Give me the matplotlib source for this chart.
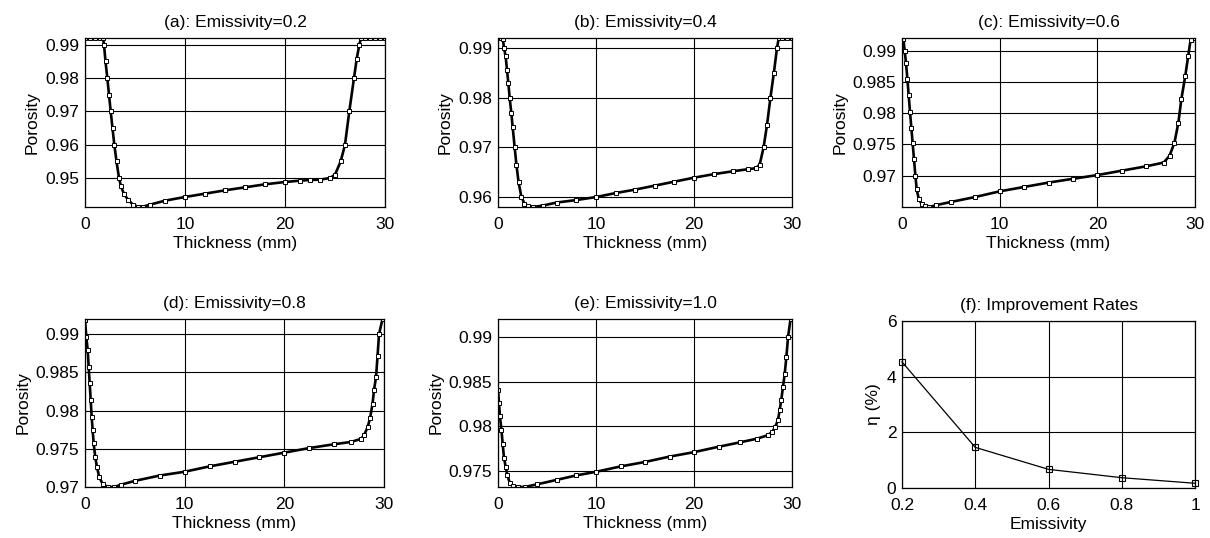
import matplotlib
matplotlib.use("Agg")
import matplotlib.pyplot as plt

plt.rcParams["font.family"] = ["Liberation Sans", "DejaVu Sans"]
plt.rcParams["font.size"] = 12.5

# (a) emissivity 0.2
x_a = [0, 0.5, 1.0, 1.5, 1.8, 1.9, 2.05, 2.23, 2.4, 2.57, 2.75, 2.93, 3.15, 3.4,
       3.6, 3.9, 4.3, 4.8, 5.3, 5.8, 6.5, 8, 10, 12, 14, 16, 18, 20, 21.5, 22.5,
       23.5, 24.5, 25.0, 25.57, 26.0, 26.43, 26.9, 27.17, 27.43, 27.6, 28, 28.5,
       29, 29.5, 30]
por_a = [0.992, 0.992, 0.992, 0.992, 0.992, 0.990, 0.985, 0.980, 0.975, 0.970,
         0.965, 0.960, 0.955, 0.950, 0.9475, 0.9452, 0.9435, 0.9420, 0.9414,
         0.9414, 0.9420, 0.9432, 0.9443, 0.9453, 0.9463, 0.9472, 0.9481, 0.9488,
         0.9492, 0.9494, 0.9495, 0.9500, 0.9510, 0.9550, 0.9600, 0.9700, 0.9800,
         0.9857, 0.9900, 0.992, 0.992, 0.992, 0.992, 0.992, 0.992]

# (b) emissivity 0.4
x_b = [0, 0.3, 0.5, 0.61, 0.78, 0.92, 1.05, 1.19, 1.36, 1.5, 1.7, 1.88, 2.1, 2.39,
       2.7, 3.1, 3.6, 4.6, 6, 8, 10, 12, 14, 16, 18, 20, 22, 24, 25.5, 26.3, 26.7,
       27.1, 27.45, 27.8, 28.15, 28.47, 28.65, 29, 29.5, 30]
por_b = [0.992, 0.992, 0.9918, 0.990, 0.9883, 0.9856, 0.983, 0.980, 0.9769, 0.974,
         0.970, 0.9665, 0.963, 0.960, 0.9587, 0.9582, 0.958, 0.9583, 0.9589,
         0.9594, 0.9600, 0.9608, 0.9615, 0.9623, 0.9631, 0.9639, 0.9646, 0.9652,
         0.9656, 0.9658, 0.9665, 0.970, 0.9745, 0.980, 0.985, 0.990, 0.992,
         0.992, 0.992, 0.992]

# (c) emissivity 0.6
x_c = [0, 0.14, 0.27, 0.41, 0.55, 0.68, 0.82, 0.96, 1.09, 1.23, 1.37, 1.5, 1.71,
       2.0, 2.4, 2.8, 3.5, 5, 7.5, 10, 12.5, 15, 17.5, 20, 22.5, 25, 26.8, 27.4,
       27.9, 28.3, 28.6, 29.0, 29.3, 29.55, 30]
por_c = [0.992, 0.9919, 0.990, 0.988, 0.9855, 0.9829, 0.9802, 0.9776, 0.9752,
         0.9726, 0.970, 0.9679, 0.9663, 0.9655, 0.9652, 0.9650, 0.9653, 0.9658,
         0.9666, 0.9675, 0.9682, 0.9689, 0.9695, 0.9701, 0.9708, 0.9715, 0.9721,
         0.9732, 0.9753, 0.9785, 0.9822, 0.9859, 0.9891, 0.9917, 0.992]

# (d) emissivity 0.8
x_d = [0, 0.13, 0.27, 0.37, 0.47, 0.57, 0.67, 0.77, 0.87, 1.03, 1.2, 1.43, 1.77,
       2.27, 2.93, 3.6, 5, 7.5, 10, 12.5, 15, 17.5, 20, 22.5, 25, 26.7, 27.7, 28.0,
       28.35, 28.6, 28.85, 29.0, 29.2, 29.35, 29.5, 29.85]
por_d = [0.9919, 0.9897, 0.9879, 0.9857, 0.9836, 0.9814, 0.9792, 0.9774, 0.9757,
         0.9739, 0.9726, 0.9713, 0.9704, 0.9700, 0.9700, 0.9703, 0.9708, 0.9715,
         0.9720, 0.9727, 0.9733, 0.9739, 0.9745, 0.9751, 0.9756, 0.9759, 0.9763,
         0.9768, 0.9778, 0.9790, 0.9809, 0.9827, 0.9844, 0.9871, 0.9900, 0.9920]

# (e) emissivity 1.0
x_e = [0, 0.1, 0.2, 0.35, 0.48, 0.61, 0.79, 0.96, 1.19, 1.53, 2.04, 2.72, 4, 6, 8,
       10, 12.5, 15, 17.5, 20, 22.5, 24.7, 26.4, 27.55, 28.0, 28.3, 28.57, 28.74,
       28.9, 29.08, 29.26, 29.43, 29.6, 29.85]
por_e = [0.9841, 0.9826, 0.9811, 0.9796, 0.9780, 0.9765, 0.9754, 0.9745, 0.9737,
         0.9733, 0.9732, 0.9732, 0.9735, 0.9740, 0.9745, 0.9749, 0.9755, 0.9760,
         0.9766, 0.9771, 0.9777, 0.9782, 0.9786, 0.9790, 0.9794, 0.97995, 0.9807,
         0.9818, 0.9829, 0.9844, 0.9859, 0.9878, 0.9900, 0.9920]

# (f) improvement rates
emissivity = [0.2, 0.4, 0.6, 0.8, 1.0]
eta = [4.53, 1.46, 0.67, 0.37, 0.17]

titles = ["(a): Emissivity=0.2", "(b): Emissivity=0.4", "(c): Emissivity=0.6",
          "(d): Emissivity=0.8", "(e): Emissivity=1.0"]
xs = [x_a, x_b, x_c, x_d, x_e]
ys = [por_a, por_b, por_c, por_d, por_e]
ylims = [(0.9413, 0.992), (0.958, 0.992), (0.9650, 0.992), (0.970, 0.992), (0.9732, 0.992)]
yticks = [[0.95, 0.96, 0.97, 0.98, 0.99],
          [0.96, 0.97, 0.98, 0.99],
          [0.97, 0.975, 0.98, 0.985, 0.99],
          [0.97, 0.975, 0.98, 0.985, 0.99],
          [0.975, 0.98, 0.985, 0.99]]
ytick_labels = [["0.95", "0.96", "0.97", "0.98", "0.99"],
                ["0.96", "0.97", "0.98", "0.99"],
                ["0.97", "0.975", "0.98", "0.985", "0.99"],
                ["0.97", "0.975", "0.98", "0.985", "0.99"],
                ["0.975", "0.98", "0.985", "0.99"]]

W, H = 1210, 538
fig = plt.figure(figsize=(W / 100, H / 100), dpi=100)

# axes boxes in pixels: left, top, right, bottom
boxes = [(85, 38, 385, 207), (498, 38, 792, 207), (902, 38, 1195, 207),
         (85, 319, 384, 487), (498, 319, 792, 487), (902, 321, 1195, 488)]


def make_axes(b):
    l, t, r, bt = b
    ax = fig.add_axes([l / W, 1 - bt / H, (r - l) / W, (bt - t) / H])
    ax.grid(True, color="k", lw=0.8, ls="-")
    ax.set_axisbelow(True)
    ax.tick_params(direction="in", length=3, width=0.6, top=True, right=True, pad=4)
    ax.tick_params(axis="x", pad=7)
    for s in ax.spines.values():
        s.set_linewidth(0.9)
    return ax


for i in range(5):
    ax = make_axes(boxes[i])
    ax.plot(xs[i], ys[i], color="k", lw=1.9, marker="s", ms=2.6, mfc="white",
            mec="k", mew=0.7)
    ax.set_xlim(0, 30)
    ax.set_ylim(*ylims[i])
    ax.set_xticks([0, 10, 20, 30])
    ax.set_xticklabels(["0", "10", "20", "30"])
    ax.set_yticks(yticks[i])
    ax.set_yticklabels(ytick_labels[i])
    ax.set_title(titles[i], fontsize=12.5, pad=8)
    ax.set_xlabel("Thickness (mm)", labelpad=3)
    ax.set_ylabel("Porosity", labelpad=4)

ax = make_axes(boxes[5])
ax.plot(emissivity, eta, color="k", lw=0.9, marker="s", ms=5, mfc="none", mec="k", mew=0.8,
        clip_on=False)
ax.set_xlim(0.2, 1.0)
ax.set_ylim(0, 6)
ax.set_xticks([0.2, 0.4, 0.6, 0.8, 1.0])
ax.set_xticklabels(["0.2", "0.4", "0.6", "0.8", "1"])
ax.set_yticks([0, 2, 4, 6])
ax.set_yticklabels(["0", "2", "4", "6"])
ax.set_title("(f): Improvement Rates", fontsize=12.5, pad=8)
ax.set_xlabel("Emissivity", labelpad=3)
ax.set_ylabel("η (%)", labelpad=4)

fig.savefig("out.png", dpi=100)
